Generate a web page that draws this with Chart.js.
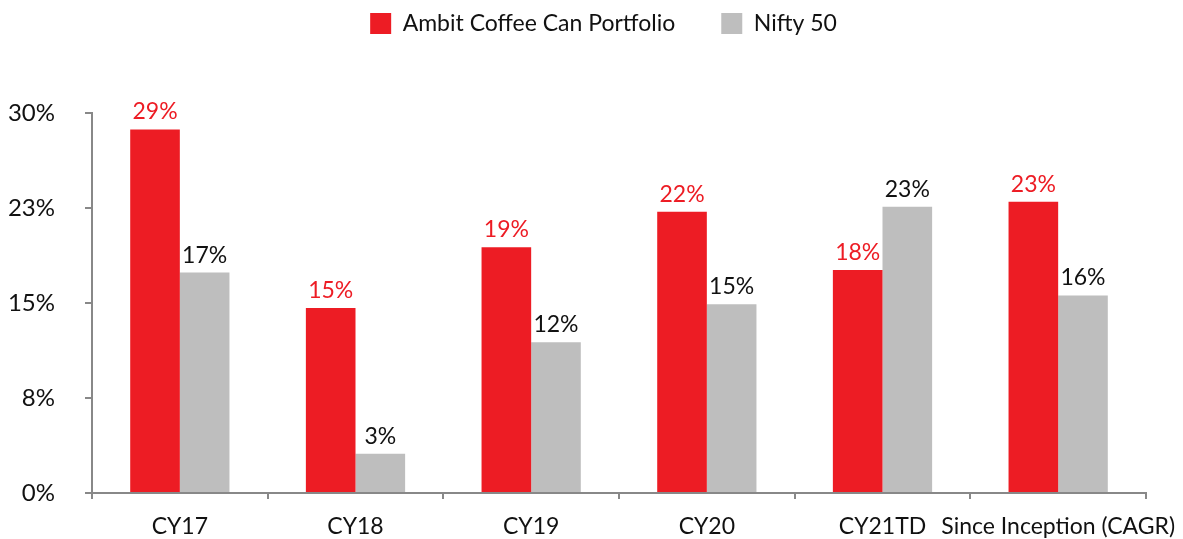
<!DOCTYPE html>
<html>
<head>
<meta charset="utf-8">
<script src="https://cdn.jsdelivr.net/npm/chart.js@4"></script>
<style>
  body { margin: 0; background: #fff; }
</style>
</head>
<body>
<canvas id="chart" width="1183" height="539"></canvas>
<script>
// values (percent)
const categories = ['CY17', 'CY18', 'CY19', 'CY20', 'CY21TD', 'Since Inception (CAGR)'];
const ambitValues = [28.7, 14.6, 19.4, 22.2, 17.6, 23.0];
const niftyValues = [17.4, 3.1, 11.9, 14.9, 22.6, 15.6];
const seriesNames = ['Ambit Coffee Can Portfolio', 'Nifty 50'];
const yTicks = [0, 7.5, 15, 22.5, 30];

const RED = '#ED1C24';
const GRAY = '#BEBEBE';
const FONT = 'Lato, "Open Sans", sans-serif';

// draws the value above each bar, rounded like the source
const barLabels = {
    id: 'barLabels',
    afterDatasetsDraw(chart) {
        const ctx = chart.ctx;
        ctx.save();
        ctx.font = '23px ' + FONT;
        ctx.textAlign = 'center';
        ctx.textBaseline = 'alphabetic';
        chart.data.datasets.forEach((ds, i) => {
            ctx.fillStyle = i === 0 ? RED : '#111';
            chart.getDatasetMeta(i).data.forEach((bar, j) => {
                ctx.fillText(Math.round(ds.data[j]) + '%', bar.x, bar.y - 10);
            });
        });
        ctx.restore();
    }
};

// fixed legend height so the plot starts where the reference does,
// and nudge the legend to where it sits in the reference
const legendTweak = {
    id: 'legendTweak',
    afterInit(chart) {
        const lg = chart.legend;
        const fit = lg.fit;
        lg.fit = function () {
            fit.call(lg);
            this.height = 113;
        };
        const draw = lg.draw;
        lg.draw = function () {
            const ctx = this.ctx;
            ctx.save();
            ctx.translate(12, -34);
            draw.call(lg);
            ctx.restore();
        };
    }
};

new Chart(document.getElementById('chart').getContext('2d'), {
    type: 'bar',
    data: {
        labels: categories,
        datasets: [
            { label: seriesNames[0], data: ambitValues, backgroundColor: RED },
            { label: seriesNames[1], data: niftyValues, backgroundColor: GRAY }
        ]
    },
    options: {
        responsive: false,
        animation: false,
        layout: { padding: 0 },
        datasets: { bar: { categoryPercentage: 0.565, barPercentage: 1 } },
        plugins: {
            legend: {
                position: 'top',
                labels: {
                    font: { family: FONT, size: 23 },
                    color: '#111',
                    boxWidth: 21,
                    boxHeight: 21,
                    padding: 46
                }
            },
            tooltip: { enabled: false }
        },
        scales: {
            x: {
                afterFit(scale) {
                    scale.height = 46;
                    scale.paddingRight = 37;
                },
                grid: { display: true, drawOnChartArea: false, drawTicks: true, tickLength: 6, color: '#888', lineWidth: 2 },
                border: { color: '#888', width: 2 },
                ticks: {
                    font: { family: FONT, size: 23 },
                    color: '#111',
                    padding: 14,
                    autoSkip: false,
                    maxRotation: 0
                }
            },
            y: {
                min: 0,
                max: 30,
                afterBuildTicks(scale) {
                    scale.ticks = yTicks.map(v => ({ value: v }));
                },
                afterFit(scale) { scale.width = 92; },
                grid: { display: true, drawOnChartArea: false, drawTicks: true, tickLength: 7, color: '#888', lineWidth: 2 },
                border: { color: '#888', width: 2 },
                ticks: {
                    font: { family: FONT, size: 24 },
                    color: '#111',
                    padding: 30,
                    callback: v => Math.round(v) + '%'
                }
            }
        }
    },
    plugins: [barLabels, legendTweak]
});
</script>
</body>
</html>
